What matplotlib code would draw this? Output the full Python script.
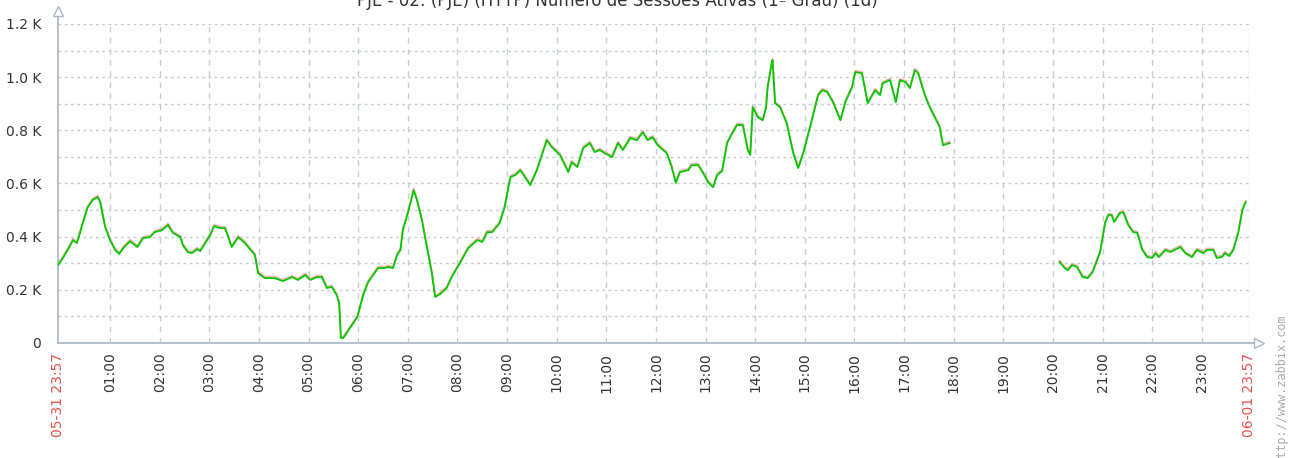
import numpy as np
import matplotlib.pyplot as plt
import matplotlib.transforms as mtransforms

# minutes after 00:00 of 06-01 (first point is 23:57 the day before), None = no data
minutes = [-3, 3, 12, 15, 20, 27, 33, 39, 45, 48, 54, 60, 66, 71, 76, 84, 93, 100, 108, 114,
           123, 130, 136, 145, 148, 154, 159, 165, 169, 175, 181, 186, 193, 199, 207, 215, 223,
           235, 239, 247, 259, 269, 280, 287, 296, 302, 310, 316, 322, 328, 334, 337, 339, 342,
           359, 366, 372, 384, 392, 396, 402, 407, 411, 414, 420, 425, 427, 431, 437, 443, 449,
           453, 459, 467, 473, 483, 493, 504, 510, 516, 522, 531, 537, 544, 550, 556, 560, 568,
           576, 580, 588, 594, 604, 614, 618, 625, 632, 640, 646, 652, 658, 667, 674, 680, 689,
           697, 704, 710, 716, 722, 733, 739, 744, 749, 759, 763, 771, 777, 783, 789, 794, 800,
           806, 813, 818, 825, 831, 834, 837, 843, 849, 853, 855, 860, 861, 864, 870, 878, 886,
           892, 898, 906, 916, 921, 927, 934, 943, 949, 957, 961, 969, 976, 985, 991, 994, 1003,
           1010, 1015, 1022, 1027, 1033, 1037, 1045, 1051, 1057, 1063, 1067, 1075,
           1140,
           1208, 1214, 1218, 1223, 1229, 1236, 1242, 1248, 1257, 1263, 1267, 1271, 1274, 1281,
           1285, 1291, 1297, 1302, 1308, 1314, 1320, 1324, 1328, 1336, 1342, 1354, 1360, 1368,
           1374, 1382, 1386, 1394, 1398, 1404, 1408, 1413, 1418, 1424, 1429, 1433]
sessions = [293, 320, 368, 387, 376, 451, 511, 538, 549, 530, 436, 387, 350, 335, 357, 383, 361,
            395, 398, 417, 425, 444, 414, 398, 368, 342, 338, 353, 346, 376, 406, 440, 432, 432,
            361, 398, 376, 331, 263, 244, 244, 233, 248, 237, 256, 237, 248, 248, 207, 211, 180,
            150, 19, 19, 98, 180, 229, 282, 282, 286, 282, 331, 350, 425, 489, 549, 575, 538,
            462, 361, 263, 173, 184, 207, 248, 301, 357, 387, 380, 417, 417, 451, 511, 624, 632,
            650, 632, 594, 650, 688, 763, 737, 707, 643, 680, 662, 733, 752, 718, 726, 714, 699,
            752, 726, 771, 763, 793, 763, 774, 744, 714, 662, 602, 643, 650, 669, 669, 639, 605,
            586, 632, 647, 752, 793, 820, 820, 726, 707, 887, 850, 838, 883, 962, 1053, 1064,
            902, 887, 827, 714, 658, 714, 808, 932, 951, 944, 906, 838, 906, 962, 1019, 1015,
            902, 951, 932, 977, 989, 906, 989, 981, 959, 1026, 1015, 932, 887, 850, 812, 744, 752,
            None,
            305, 282, 274, 293, 286, 248, 244, 267, 342, 451, 481, 481, 455, 489, 492, 444, 417,
            414, 350, 323, 320, 338, 323, 350, 342, 361, 338, 323, 350, 338, 350, 350, 320, 323,
            338, 327, 350, 414, 500, 530]

hour_labels = [f"{h:02d}:00" for h in range(1, 24)]
start_label = "05-31 23:57"
end_label = "06-01 23:57"
y_labels = ["0", "0.2 K", "0.4 K", "0.6 K", "0.8 K", "1.0 K", "1.2 K"]
title = "PJE - 02: (PJE) (HTTP) Número de Sessões Ativas (1º Grau) (1d)"

axis_col = "#a8b8c6"
grid_col = "#c4ccd4"
text_col = "#333333"
red_col = "#e8504a"

x = np.array(minutes, dtype=float) / 60.0
y = np.array([np.nan if v is None else v for v in sessions], dtype=float)

fig = plt.figure(figsize=(12.9, 4.58), dpi=100)
ax = fig.add_axes([58 / 1290, 115 / 458, 1191 / 1290, 319 / 458])

x0, x1 = -3 / 60, 1437 / 60
ax.set_xlim(x0, x1)
ax.set_ylim(0, 1200)

# grid
for v in range(100, 1201, 100):
    ax.axhline(v, color=grid_col, lw=1, ls=(0, (2, 2.5)), zorder=1)
for h in range(1, 24):
    ax.axvline(h, color=grid_col, lw=1, ls=(0, (4, 4)), zorder=1)
ax.axvline(x1, color=grid_col, lw=1, ls=(0, (2, 2.5)), zorder=1)

# series with faint min/max halo
halo = mtransforms.offset_copy(ax.transData, fig=fig, x=0, y=1.0, units='points')
ax.plot(x, y, color='#ffb0b0', lw=1.3, transform=halo, zorder=2)
ax.plot(x, y, color='#00C800', lw=1.3, zorder=3)

for s in ['top', 'right']:
    ax.spines[s].set_visible(False)
for s in ['left', 'bottom']:
    ax.spines[s].set_color(axis_col)
    ax.spines[s].set_linewidth(1.2)

# axis arrows
ax.plot([0, 0], [1, 1.035], transform=ax.transAxes, color=axis_col, lw=1.2, clip_on=False)
ax.plot([0], [1.04], transform=ax.transAxes, marker='^', ms=7, mfc='white', mec=axis_col,
        clip_on=False)
ax.plot([1, 1.006], [0, 0], transform=ax.transAxes, color=axis_col, lw=1.2, clip_on=False)
ax.plot([1.008], [0], transform=ax.transAxes, marker='>', ms=7, mfc='white', mec=axis_col,
        clip_on=False)

ax.set_yticks(range(0, 1201, 200))
ax.set_yticklabels(y_labels, fontsize=10, color=text_col)
ax.tick_params(axis='y', length=0, pad=12)

ax.set_xticks([x0] + list(range(1, 24)) + [x1])
ax.set_xticklabels([start_label] + hour_labels + [end_label], rotation=90, fontsize=10,
                   color=text_col)
ax.tick_params(axis='x', length=0, pad=7)
ax.get_xticklabels()[0].set_color(red_col)
ax.get_xticklabels()[-1].set_color(red_col)

# title sits partly above the top edge, as in the original graph
fig.text(617 / 1290, 452 / 458, title, ha='center', va='baseline', fontsize=12, color=text_col)
fig.text(1281 / 1290, -5 / 458, "http://www.zabbix.com", rotation=90, ha='center', va='bottom',
         fontsize=8.5, color='#aaaaaa', family='DejaVu Sans Mono')

plt.savefig("out.png", dpi=100)
